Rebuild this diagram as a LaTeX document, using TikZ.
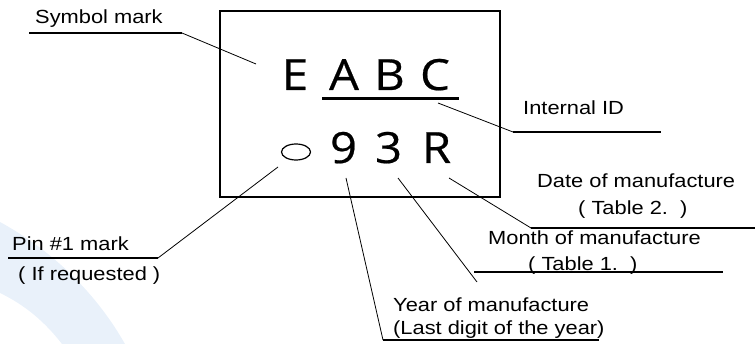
\documentclass[tikz,border=0pt]{standalone}
\usepackage{fontspec}
\setmainfont{Liberation Sans}[FakeStretch=1.15]
\newfontfamily\markfont{Open Sans}[FakeStretch=1.1,FakeBold=0.5]
\usetikzlibrary{shapes.geometric}
\definecolor{swoosh}{RGB}{233,241,250}
\tikzset{
	lbl/.style={font=\fontsize{19}{21}\selectfont, inner sep=0pt, anchor=base west},
	chip/.style={font=\markfont\fontsize{43}{45}\selectfont, inner sep=0pt, anchor=base},
	lead/.style={line width=0.8pt},
	rulel/.style={line width=1.2pt}
}

\begin{document}
\begin{tikzpicture}[x=1pt,y=-1pt]
			%%%%% START %%%%%
			\useasboundingbox (0,0) rectangle (755,344);
			
			\fill[swoosh] (0,222) .. controls (60,255) and (100,300) .. (125,344) -- (62,344) .. controls (45,322) and (25,305) .. (0,293) -- cycle;
			
			\draw[line width=1.5pt] (220,11) rectangle (500,197);
			
			\node[chip] (E) at (295,90) {E};
			\node[chip] (A) at (344,90) {A};
			\node[chip] (B) at (389.5,90) {B};
			\node[chip] (C) at (435,90) {C};
			\draw[line width=3pt] (322,99) -- (459,99);
			
			\node[draw, ellipse, line width=1.2pt, minimum width=29pt, minimum height=16pt, inner sep=0pt] (pin) at (296,152) {};
			\node[chip] (nine) at (343.5,163) {9};
			\node[chip] (three) at (388.5,163) {3};
			\node[chip] (R) at (436.5,163) {R};
			
			% labels
			\node[lbl] (sym) at (35,24) {Symbol mark};
			\coordinate (symL) at (29,33);
			\coordinate (symR) at (182,33);
			\coordinate (symTip) at (256,64);
			\draw[rulel] (symL) -- (symR);
			\draw[lead] (symR) -- (symTip);
			
			\node[lbl] (iid) at (523,115) {Internal ID};
			\coordinate (iidL) at (513,132);
			\coordinate (iidR) at (661,132);
			\coordinate (iidTip) at (438,103);
			\draw[rulel] (iidL) -- (iidR);
			\draw[lead] (iidL) -- (iidTip);
			
			\node[lbl] (date) at (537,188) {Date of manufacture};
			\node[lbl] (dateT) at (578,215) {( Table 2.\ \ )};
			\coordinate (dateL) at (531,228);
			\coordinate (dateR) at (755,228);
			\coordinate (dateTip) at (449,178);
			\draw[rulel] (dateL) -- (dateR);
			\draw[lead] (dateL) -- (dateTip);
			
			\node[lbl] (month) at (488,245) {Month of manufacture};
			\node[lbl] (monthT) at (528,271) {( Table 1.\ \ )};
			\coordinate (monthL) at (474,272);
			\coordinate (monthR) at (723,272);
			\coordinate (monthTip) at (398,178);
			\coordinate (monthEnd) at (477,282);
			\draw[rulel] (monthL) -- (monthR);
			\draw[lead] (monthTip) -- (monthEnd);
			
			\node[lbl] (year) at (393,312) {Year of manufacture};
			\node[lbl] (yearT) at (393,335) {(Last digit of the year)};
			\coordinate (yearL) at (383,340);
			\coordinate (yearR) at (599,340);
			\coordinate (yearTip) at (346,178);
			\draw[rulel] (yearL) -- (yearR);
			\draw[lead] (yearL) -- (yearTip);
			
			\node[lbl] (pinlbl) at (12,251) {Pin \#1 mark};
			\node[lbl] (pinreq) at (18,281) {( If requested )};
			\coordinate (pinL) at (8,258);
			\coordinate (pinR) at (158,258);
			\coordinate (pinTip) at (278,167);
			\draw[rulel] (pinL) -- (pinR);
			\draw[lead] (pinR) -- (pinTip);
			
			%%%%% END %%%%%
\end{tikzpicture}
\end{document}
